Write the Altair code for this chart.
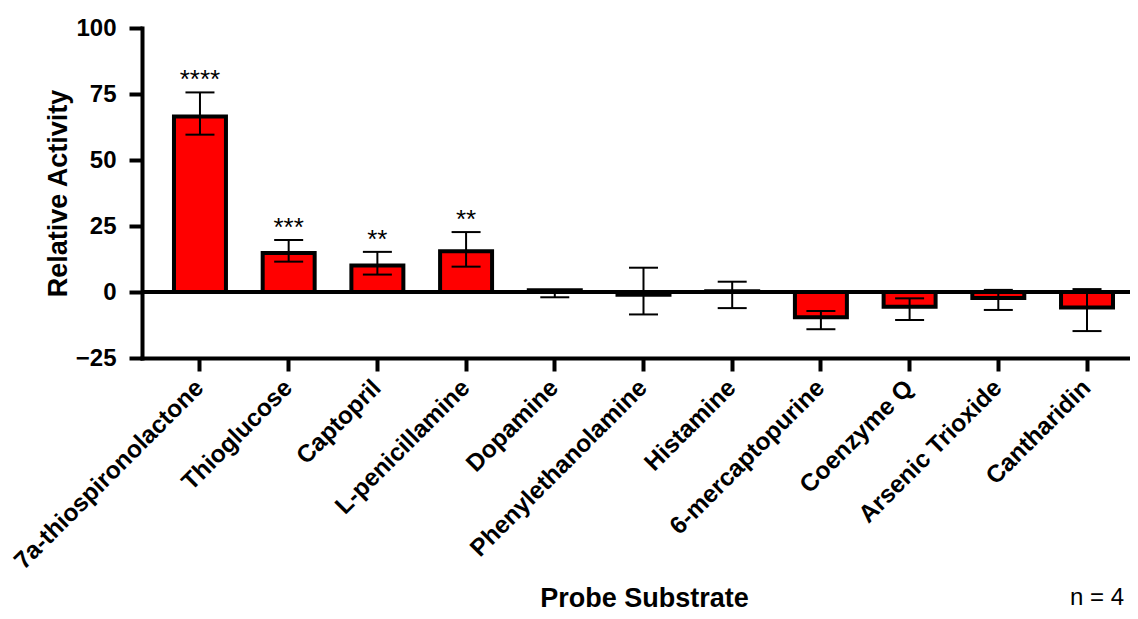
import altair as alt
import pandas as pd

categories = ["7a-thiospironolactone", "Thioglucose", "Captopril", "L-penicillamine",
              "Dopamine", "Phenylethanolamine", "Histamine", "6-mercaptopurine",
              "Coenzyme Q", "Arsenic Trioxide", "Cantharidin"]
means = [66.5, 14.8, 10.0, 15.4, 0.7, -1.0, 0.3, -9.6, -5.6, -2.3, -5.9]
err_lo = [59.6, 11.5, 6.6, 9.6, -2.0, -8.5, -6.1, -14.1, -10.6, -6.8, -14.8]
err_hi = [75.6, 19.7, 15.2, 22.7, 0.7, 9.2, 3.9, -7.2, -2.4, 0.8, 1.1]
stars = ["****", "***", "**", "**", "", "", "", "", "", "", ""]
y_ticks = [-25, 0, 25, 50, 75, 100]

df = pd.DataFrame({
    "cat": categories,
    "mean": means,
    "lo": err_lo,
    "hi": err_hi,
    "stars": stars,
})

FONT = "Liberation Sans"

xscale = alt.Scale(paddingInner=0.414, paddingOuter=0.276, align=0.653)
xaxis = alt.Axis(title="Probe Substrate", labelAngle=315, labelAlign="right",
                 labelBaseline="middle", labelPadding=13, labelLimit=400,
                 labelFontSize=24.5, titleFontSize=27, titleX=502, titleY=248,
                 titleBaseline="alphabetic", titleAlign="center")
yscale = alt.Scale(domain=[-25, 100], nice=False, zero=False)
yaxis = alt.Axis(title="Relative Activity", values=y_ticks, labelFontSize=24,
                 labelPadding=13, titleFontSize=27, titleAngle=270, titleX=-76,
                 titleY=165, titleBaseline="alphabetic", titleAlign="center")

xenc = alt.X("cat:N", sort=categories, scale=xscale, axis=xaxis)

base = alt.Chart(df)

bars = base.mark_bar(color="#FF0000", stroke="black", strokeWidth=4).encode(
    x=xenc, y=alt.Y("mean:Q", scale=yscale, axis=yaxis)
)
zero = alt.Chart(pd.DataFrame({"z": [0]})).mark_rule(color="black", strokeWidth=4).encode(
    y=alt.Y("z:Q", scale=yscale, axis=yaxis)
)
err = base.mark_rule(color="black", strokeWidth=2).encode(
    x=xenc, y=alt.Y("lo:Q", scale=yscale, axis=yaxis), y2="hi:Q"
)
cap_lo = base.mark_tick(color="black", thickness=2, size=29, opacity=1).encode(
    x=xenc, y=alt.Y("lo:Q", scale=yscale, axis=yaxis)
)
cap_hi = base.mark_tick(color="black", thickness=2, size=29, opacity=1).encode(
    x=xenc, y=alt.Y("hi:Q", scale=yscale, axis=yaxis)
)
star_text = base.mark_text(font=FONT, fontSize=26, dy=-4, baseline="alphabetic",
                           align="center", color="black").encode(
    x=xenc, y=alt.Y("hi:Q", scale=yscale, axis=yaxis), text="stars:N"
)
n_text = alt.Chart(pd.DataFrame({"t": ["n = 4"]})).mark_text(
    font=FONT, fontSize=24, align="right", baseline="alphabetic", color="black"
).encode(x=alt.value(982), y=alt.value(577), text="t:N")

chart = alt.layer(bars, zero, err, cap_lo, cap_hi, star_text, n_text).properties(
    width=988, height=330,
    autosize=alt.AutoSizeParams(type="none"),
    padding={"left": 134, "top": 20, "right": 0, "bottom": 253},
).configure_view(stroke=None).configure_axis(
    grid=False, domainColor="black", domainWidth=4, tickColor="black", tickWidth=4,
    tickSize=13, labelColor="black", titleColor="black", labelFont=FONT,
    titleFont=FONT, labelFontWeight="bold", titleFontWeight="bold",
    domainCap="square"
)

chart.save("out.html", embed_options={"renderer": "svg", "actions": False})
